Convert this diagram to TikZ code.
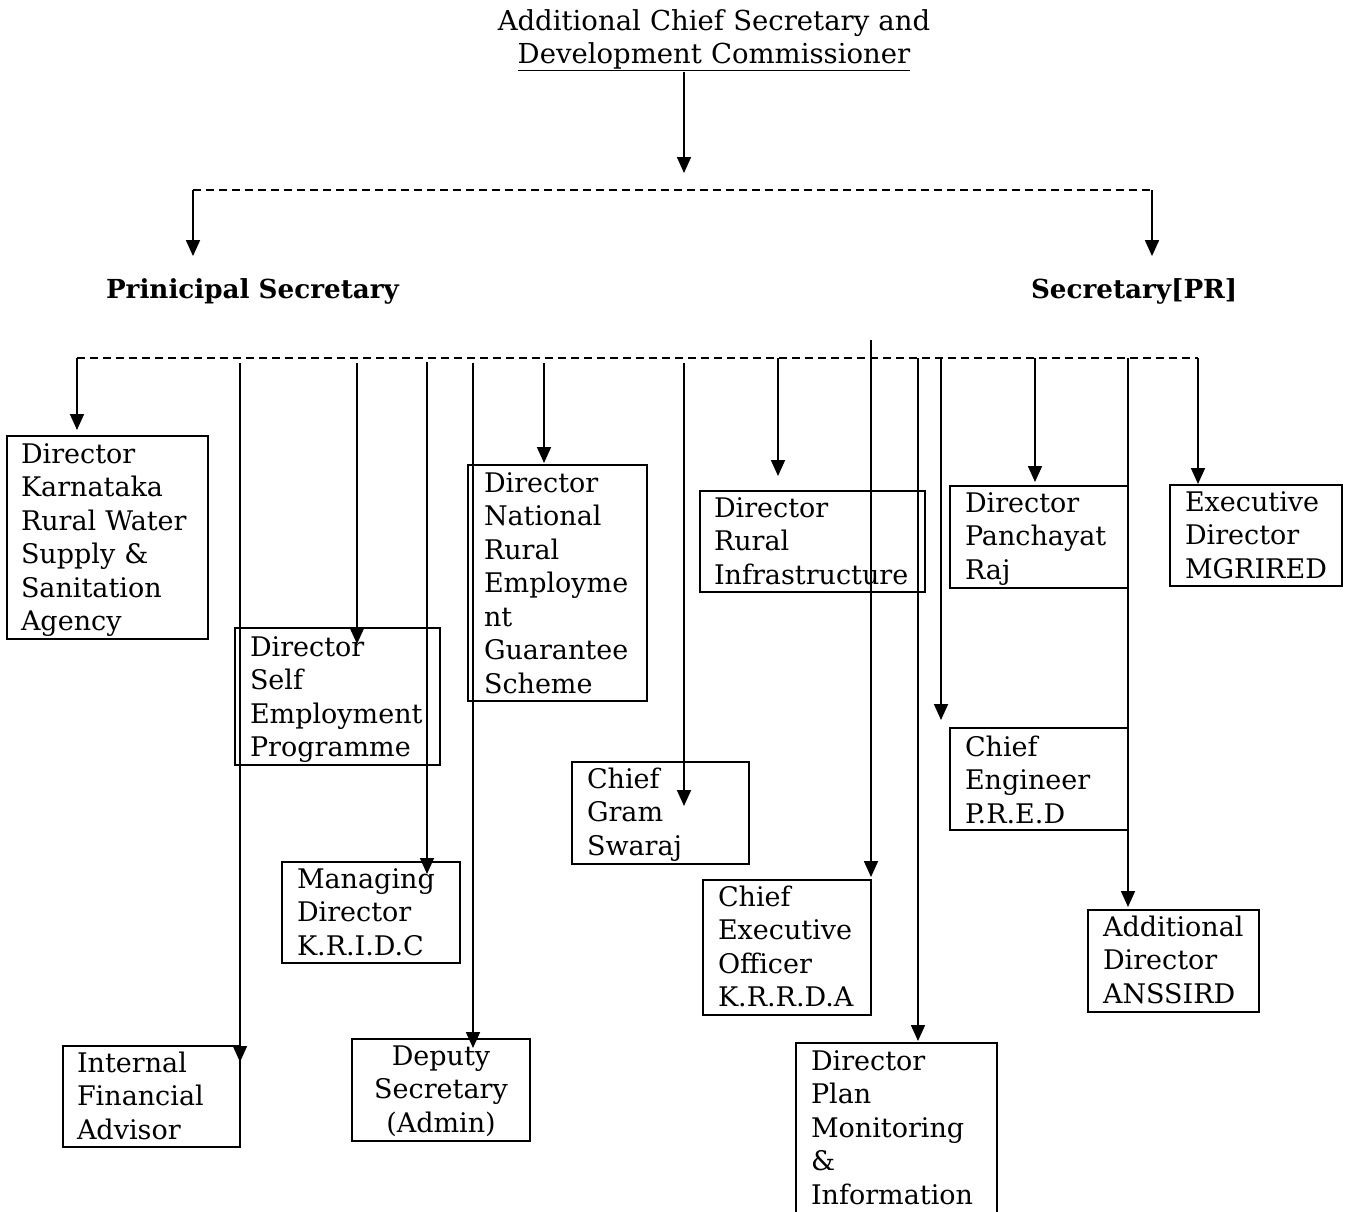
\documentclass[tikz,border=0pt]{standalone}
\usepackage{fontspec}
\setmainfont{DejaVu Serif}
\usetikzlibrary{arrows.meta}
\begin{document}
\begin{tikzpicture}[x=1pt,y=-1pt,
  every node/.style={inner sep=0pt,outer sep=0pt},
  txt/.style={anchor=base west,text width=260pt,align=left,font=\fontsize{27}{33.5}\selectfont},
  ctxt/.style={anchor=base,text width=260pt,align=center,font=\fontsize{27}{33.5}\selectfont},
  ttxt/.style={anchor=base,text width=600pt,align=center,font=\fontsize{27.5}{33}\selectfont},
  hd/.style={anchor=base west,font=\fontsize{26.2}{30}\selectfont\bfseries},
  boxT/.style={draw,line width=2pt,anchor=north west},
  boxt/.style={draw,line width=1.3pt,anchor=north west},
  arr/.style={line width=1.7pt,-{Triangle[length=16pt,width=14pt]}},
  bus/.style={line width=1.3pt,dash pattern=on 8pt off 5pt}]
\clip (0,0) rectangle (1351,1211);
\useasboundingbox (0,0) rectangle (1351,1211);
\fill[white] (0,0) rectangle (1351,1211);

% title
\node[ttxt] (ttl) at (714,30) {Additional Chief Secretary and\\\underline{Development Commissioner}};
\coordinate (t0) at (684,72);
\coordinate (t1) at (684,173);
\draw[arr] (t0) -- (t1);

% first bus
\coordinate (a1) at (193,190);
\coordinate (a2) at (1152,190);
\draw[bus] (a1) -- (a2);
\node[hd] (ps) at (106,298) {Prinicipal Secretary};
\node[hd] (spr) at (1031,298) {Secretary[PR]};
\draw[arr] (a1) -- ([yshift=22pt]a1 |- ps.north);
\draw[arr] (a2) -- ([yshift=22pt]a2 |- spr.north);

% second bus
\coordinate (bl) at (77,358);
\coordinate (br) at (1198,358);
\draw[bus] (bl) -- (br);

% boxes
\node[boxT,minimum width=201pt,minimum height=203pt] (kar) at (7,436) {};
\node[txt] (karT) at (21,463) {Director\\Karnataka\\Rural Water\\Supply \&\\Sanitation\\Agency};

\node[boxt,minimum width=205pt,minimum height=137pt] (sep) at (235,628) {};
\node[txt] (sepT) at (250,656) {Director\\Self\\Employment\\Programme};

\node[boxt,minimum width=179pt,minimum height=236pt] (nre) at (468,465) {};
\node[txt] (nreT) at (484,492) {Director\\National\\Rural\\Employme\\nt\\Guarantee\\Scheme};

\node[boxt,minimum width=225pt,minimum height=101pt] (rin) at (700,491) {};
\node[txt] (rinT) at (714,517) {Director\\Rural\\Infrastructure};

\node[boxT,minimum width=178pt,minimum height=102pt] (pan) at (950,486) {};
\node[txt] (panT) at (965,512) {Director\\Panchayat\\Raj};

\node[boxT,minimum width=172pt,minimum height=101pt] (mgr) at (1170,485) {};
\node[txt] (mgrT) at (1185,511) {Executive\\Director\\MGRIRED};

\node[boxT,minimum width=178pt,minimum height=102pt] (cep) at (950,728) {};
\node[txt] (cepT) at (965,756) {Chief\\Engineer\\P.R.E.D};

\node[boxT,minimum width=177pt,minimum height=102pt] (cgs) at (572,762) {};
\node[txt] (cgsT) at (587,788) {Chief\\Gram\\Swaraj};

\node[boxT,minimum width=178pt,minimum height=101pt] (mdk) at (282,862) {};
\node[txt] (mdkT) at (297,888) {Managing\\Director\\K.R.I.D.C};

\node[boxT,minimum width=168pt,minimum height=135pt] (ceo) at (703,880) {};
\node[txt] (ceoT) at (718,906) {Chief\\Executive\\Officer\\K.R.R.D.A};

\node[boxT,minimum width=171pt,minimum height=102pt] (ans) at (1088,910) {};
\node[txt] (ansT) at (1103,936) {Additional\\Director\\ANSSIRD};

\node[boxT,minimum width=177pt,minimum height=101pt] (ifa) at (63,1046) {};
\node[txt] (ifaT) at (77,1072) {Internal\\Financial\\Advisor};

\node[boxT,minimum width=178pt,minimum height=102pt] (dep) at (352,1039) {};
\node[ctxt] (depT) at (441,1065) {Deputy\\Secretary\\(Admin)};

\node[boxT,minimum width=201pt,minimum height=190pt] (pmi) at (796,1043) {};
\node[txt] (pmiT) at (811,1070) {Director\\Plan\\Monitoring\\\&\\Information};

% drop lines from second bus
\coordinate (c2) at (240,363);
\coordinate (c3) at (357,363);
\coordinate (c4) at (427,362);
\coordinate (c5) at (473,363);
\coordinate (c6) at (544,363);
\coordinate (c7) at (684,363);
\coordinate (c8) at (778,358);
\coordinate (c9) at (871,340);
\coordinate (c10) at (918,358);
\coordinate (c11) at (941,358);
\coordinate (c12) at (1035,358);
\coordinate (c13) at (1128,358);

\draw[arr] (bl) -- ([yshift=6pt]bl |- kar.north);
\draw[arr] (c2) -- ([yshift=-16pt]c2 |- ifa.north);
\draw[arr] (c3) -- ([yshift=-16pt]c3 |- sep.north);
\draw[arr] (c4) -- ([yshift=-12pt]c4 |- mdk.north);
\draw[arr] (c5) -- ([yshift=-9pt]c5 |- dep.north);
\draw[arr] (c6) -- ([yshift=2pt]c6 |- nre.north);
\draw[arr] (c7) -- ([yshift=-44pt]c7 |- cgs.north);
\draw[arr] (c8) -- ([yshift=15pt]c8 |- rin.north);
\draw[arr] (c9) -- ([yshift=3pt]c9 |- ceo.north);
\draw[arr] (c10) -- ([yshift=2pt]c10 |- pmi.north);
\draw[arr] (c11) -- ([yshift=8pt]c11 |- cep.north);
\draw[arr] (c12) -- ([yshift=4pt]c12 |- pan.north);
\draw[arr] (c13) -- ([yshift=3pt]c13 |- ans.north);
\draw[arr] (br) -- ([yshift=1pt]br |- mgr.north);
\end{tikzpicture}
\end{document}
